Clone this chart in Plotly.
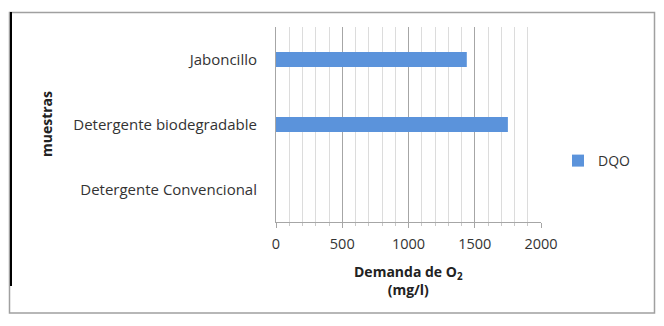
import plotly.graph_objects as go

categories = ["Detergente Convencional", "Detergente biodegradable", "Jaboncillo"]
dqo_values = [0, 1750, 1440]
series_name = "DQO"
x_ticks = [0, 500, 1000, 1500, 2000]

W, H = 664, 326
L, R, T, B = 276, 541, 27, 222


def px(x):
    return (x - L) / (R - L)


def py(y):
    return (B - y) / (B - T)


fig = go.Figure()
fig.add_trace(go.Bar(
    y=categories, x=dqo_values, orientation="h", name=series_name,
    marker=dict(color="#5B93DB", line=dict(width=0)), width=0.23,
))

FONT = "Open Sans"
TXT = "#333333"
fig.update_layout(
    width=W, height=H,
    margin=dict(l=L, r=W - R, t=T, b=H - B),
    paper_bgcolor="white", plot_bgcolor="white",
    font=dict(family=FONT, size=14, color=TXT),
    showlegend=True,
    legend=dict(x=px(558), y=py(161), xanchor="left", yanchor="middle",
                font=dict(size=14, color=TXT), itemwidth=30,
                bgcolor="rgba(0,0,0,0)"),
    xaxis=dict(range=[0, 2000], tickvals=x_ticks, showgrid=True,
               gridcolor="#a6a6a6", gridwidth=1, zeroline=False,
               showline=True, linecolor="#a6a6a6", ticks="outside",
               ticklen=5, tickcolor="#a6a6a6", ticklabelstandoff=4,
               tickfont=dict(size=14.5, color=TXT),
               minor=dict(dtick=100, showgrid=True, gridcolor="#dcdcdc",
                          gridwidth=1, ticks="outside", ticklen=3,
                          tickcolor="#c8c8c8")),
    yaxis=dict(categoryorder="array", categoryarray=categories,
               showgrid=False, zeroline=False, showline=True,
               linecolor="#a6a6a6", ticks="", ticklabelstandoff=15,
               tickfont=dict(size=15, color=TXT)),
    bargap=0.77,
)

fig.add_annotation(xref="paper", yref="paper", x=px(408), y=py(280),
                   xanchor="center", yanchor="middle",
                   text="<b>Demanda de O<sub>2</sub><br>(mg/l)</b>",
                   showarrow=False, font=dict(size=14, color="#222222"),
                   align="center")
fig.add_annotation(xref="paper", yref="paper", x=px(46), y=py(124),
                   xanchor="center", yanchor="middle",
                   text="<b>muestras</b>", textangle=-90, showarrow=False,
                   font=dict(size=14, color="#222222"))

# chart-area border
fig.add_shape(type="rect", xref="paper", yref="paper",
              x0=px(9.5), x1=px(654.5), y0=py(12.5), y1=py(313),
              line=dict(color="#a0a0a0", width=1.5), fillcolor="rgba(0,0,0,0)")
fig.add_shape(type="line", xref="paper", yref="paper",
              x0=px(11), x1=px(11), y0=py(12), y1=py(286),
              line=dict(color="#000000", width=2))

fig.write_html("out.html")
